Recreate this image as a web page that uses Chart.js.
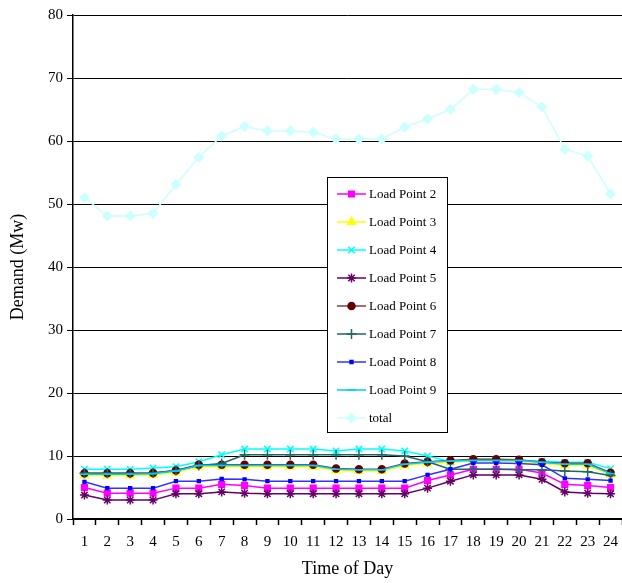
<!DOCTYPE html>
<html>
<head>
<meta charset="utf-8">
<script src="https://cdn.jsdelivr.net/npm/chart.js@4/dist/chart.umd.min.js"></script>
<style>
  body { margin: 0; background: #fff; }
  #wrap { width: 622px; height: 583px; }
</style>
</head>
<body>
<div id="wrap"><canvas id="chart" width="622" height="583"></canvas></div>
<script>
const hours = ["1","2","3","4","5","6","7","8","9","10","11","12","13","14","15","16","17","18","19","20","21","22","23","24"];

const loadPoint2 = [5.0,4.1,4.1,4.1,4.9,4.9,5.5,5.3,4.9,4.9,4.9,4.9,4.9,4.9,4.9,6.1,7.0,7.9,7.9,7.9,7.3,5.5,5.3,5.0];
const loadPoint3 = [6.9,6.9,6.9,7.0,7.4,8.3,8.3,8.3,8.3,8.3,8.3,7.7,7.6,7.6,8.5,8.8,9.0,9.2,9.2,9.1,8.8,8.5,8.5,7.0];
const loadPoint4 = [7.9,7.9,7.9,8.1,8.3,9.1,10.2,11.1,11.1,11.1,11.1,10.8,11.1,11.1,10.8,10.0,9.1,9.5,9.5,9.3,9.2,9.0,9.0,8.0];
const loadPoint5 = [3.8,3.0,3.0,3.0,4.0,4.0,4.3,4.1,4.0,4.0,4.0,4.0,4.0,4.0,4.0,4.9,6.0,7.0,7.0,7.0,6.3,4.3,4.1,4.0];
const loadPoint6 = [7.25,7.25,7.25,7.3,7.7,8.6,8.6,8.6,8.6,8.6,8.6,8.0,7.9,7.9,8.8,9.1,9.3,9.5,9.5,9.4,9.0,8.85,8.85,7.35];
const loadPoint7 = [7.25,7.25,7.25,7.3,7.7,8.5,8.8,10.2,10.2,10.2,10.2,10.2,10.2,10.2,10.0,9.1,7.9,7.9,7.9,7.8,7.8,7.6,7.5,6.9];
const loadPoint8 = [5.9,4.9,4.9,4.9,6.0,6.0,6.35,6.3,6.0,6.0,6.0,6.0,6.0,6.0,6.0,7.0,7.9,8.9,8.9,8.8,8.6,6.45,6.3,6.1];
const loadPoint9 = [7.1,7.1,7.1,7.2,7.6,8.5,8.5,8.5,8.5,8.5,8.5,7.9,7.8,7.8,8.7,9.0,9.2,9.3,9.3,9.3,9.0,8.7,8.7,7.2];
const total = [51.0,48.1,48.1,48.5,53.1,57.4,60.8,62.3,61.6,61.6,61.4,60.3,60.3,60.3,62.2,63.5,65.0,68.2,68.2,67.7,65.4,58.7,57.6,51.6];

const serif = "'Liberation Serif', 'DejaVu Serif', serif";

let seriesCount = 0;
function series(label, data, color, style, radius, lineColor) {
  seriesCount++;
  return {
    label: label,
    data: data,
    order: -seriesCount, // later series painted on top, as in the original
    borderColor: lineColor || color,
    backgroundColor: color,
    pointBorderColor: color,
    pointBackgroundColor: color,
    pointStyle: style,
    pointRadius: radius,
    pointHoverRadius: radius,
    pointBorderWidth: 1.5,
    borderWidth: 1.5,
    tension: 0
  };
}

// legend box drawn inside the plot, like the original
const boxLegend = {
  id: 'boxLegend',
  afterDraw(chart) {
    const ctx = chart.ctx;
    const x0 = 327.5, y0 = 177.5, w = 120, h = 255;
    ctx.save();
    ctx.fillStyle = '#fff';
    ctx.fillRect(x0, y0, w, h);
    ctx.strokeStyle = '#000';
    ctx.lineWidth = 1;
    ctx.strokeRect(x0, y0, w, h);
    chart.data.datasets.forEach((ds, i) => {
      const y = 194 + i * 28;
      ctx.strokeStyle = ds.borderColor;
      ctx.lineWidth = 1.5;
      ctx.beginPath();
      ctx.moveTo(337, y);
      ctx.lineTo(366, y);
      ctx.stroke();
      ctx.strokeStyle = ds.pointBorderColor;
      ctx.fillStyle = ds.pointBackgroundColor;
      Chart.helpers.drawPoint(ctx, {
        pointStyle: ds.pointStyle, radius: ds.pointRadius, rotation: 0, borderWidth: 1.5
      }, 351.5, y);
      ctx.fillStyle = '#000';
      ctx.font = "13px " + serif;
      ctx.textBaseline = 'middle';
      ctx.textAlign = 'left';
      ctx.fillText(ds.label, 369, y + 1);
    });
    ctx.restore();
  }
};

new Chart(document.getElementById("chart"), {
  type: 'line',
  data: {
    labels: hours,
    datasets: [
      series('Load Point 2', loadPoint2, '#ff00ff', 'rect', 4),
      series('Load Point 3', loadPoint3, '#ffff00', 'triangle', 4.5),
      series('Load Point 4', loadPoint4, '#00ffff', 'crossRot', 4.5),
      series('Load Point 5', loadPoint5, '#660066', 'star', 4.5),
      series('Load Point 6', loadPoint6, '#660000', 'circle', 3.5, '#804040'),
      series('Load Point 7', loadPoint7, '#1f6666', 'cross', 5),
      series('Load Point 8', loadPoint8, '#0000ff', 'rect', 2, '#3333ff'),
      series('Load Point 9', loadPoint9, '#00ccff', 'line', 4.5),
      series('total', total, '#ccffff', 'rectRot', 4.5)
    ]
  },
  options: {
    responsive: false,
    animation: false,
    layout: { autoPadding: false, padding: { top: 15, right: 0, left: 0, bottom: 0 } },
    plugins: {
      legend: { display: false },
      tooltip: { enabled: false }
    },
    scales: {
      x: {
        offset: true,
        grid: { offset: true, drawOnChartArea: false, color: '#000', tickLength: 6, tickWidth: 1.5 },
        border: { color: '#000', width: 1.5 },
        ticks: { color: '#000', font: { family: serif, size: 15 }, padding: 8, maxRotation: 0, autoSkip: false },
        title: { display: true, text: 'Time of Day', color: '#000', font: { family: serif, size: 18 }, padding: { top: 0, bottom: 3 } },
        afterFit: s => { s.height = 64; s.paddingRight = 0; s.paddingLeft = 0; }
      },
      y: {
        min: 0,
        max: 80,
        grid: { color: '#000', lineWidth: 1, tickLength: 6 },
        border: { color: '#000', width: 1.5 },
        ticks: { stepSize: 10, color: '#000', font: { family: serif, size: 15 }, padding: 4 },
        title: { display: true, text: 'Demand (Mw)', color: '#000', font: { family: serif, size: 18 }, padding: { top: 7, bottom: 0 } },
        afterFit: s => { s.width = 73; }
      }
    }
  },
  plugins: [boxLegend]
});
</script>
</body>
</html>
